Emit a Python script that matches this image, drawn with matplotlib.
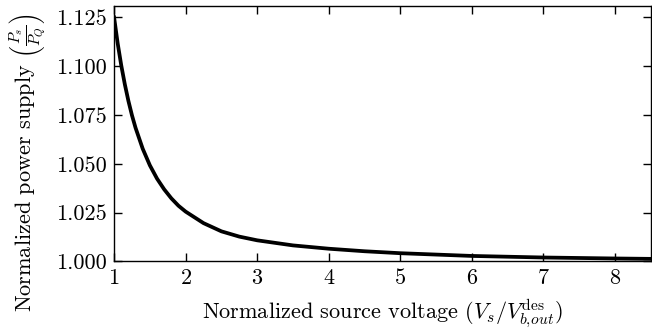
import matplotlib
matplotlib.use("Agg")
import matplotlib.pyplot as plt

# values
v_norm = [1.0, 1.05, 1.1, 1.15, 1.2, 1.25, 1.3, 1.4, 1.5, 1.6, 1.7, 1.8,
          1.9, 2.0, 2.25, 2.5, 2.75, 3.0, 3.5, 4.0, 4.5, 5.0, 6.0, 7.0,
          8.0, 8.5]
p_norm = [1.125, 1.1117, 1.1004, 1.0907, 1.0822, 1.0748, 1.0684, 1.0577,
          1.0492, 1.0424, 1.0369, 1.0323, 1.0285, 1.0255, 1.0196, 1.0154,
          1.0127, 1.0108, 1.0082, 1.0065, 1.0052, 1.0042, 1.0028, 1.0020,
          1.0015, 1.0013]
x_ticks = [1, 2, 3, 4, 5, 6, 7, 8]
y_ticks = [1.000, 1.025, 1.050, 1.075, 1.100, 1.125]

plt.rcParams['font.family'] = 'serif'
plt.rcParams['font.serif'] = ['cmr10']
plt.rcParams['mathtext.fontset'] = 'cm'
plt.rcParams['axes.formatter.use_mathtext'] = True

fig = plt.figure(figsize=(6.52, 3.33), dpi=100)
ax = fig.add_axes([0.175, 0.215, 0.823, 0.768])

ax.plot(v_norm, p_norm, color='black', lw=2.7)

ax.set_xlim(1, 8.5)
ax.set_ylim(1.0, 1.131)
ax.set_xticks(x_ticks)
ax.set_yticks(y_ticks)
ax.set_yticklabels(["{:.3f}".format(t) for t in y_ticks])
ax.tick_params(direction='in', top=True, right=True, length=6, width=1,
               labelsize=16, pad=5)
for s in ax.spines.values():
    s.set_linewidth(1.0)

ax.set_xlabel(r"Normalized source voltage $(V_s/V_{b,\!out}^{\mathrm{des}})$",
              fontsize=16, labelpad=7)
ax.set_ylabel(r"Normalized power supply $\left(\frac{P_s}{P_Q}\right)$",
              fontsize=16)
ax.yaxis.set_label_coords(-0.124, 0.385)

fig.savefig("out.png", dpi=100)
